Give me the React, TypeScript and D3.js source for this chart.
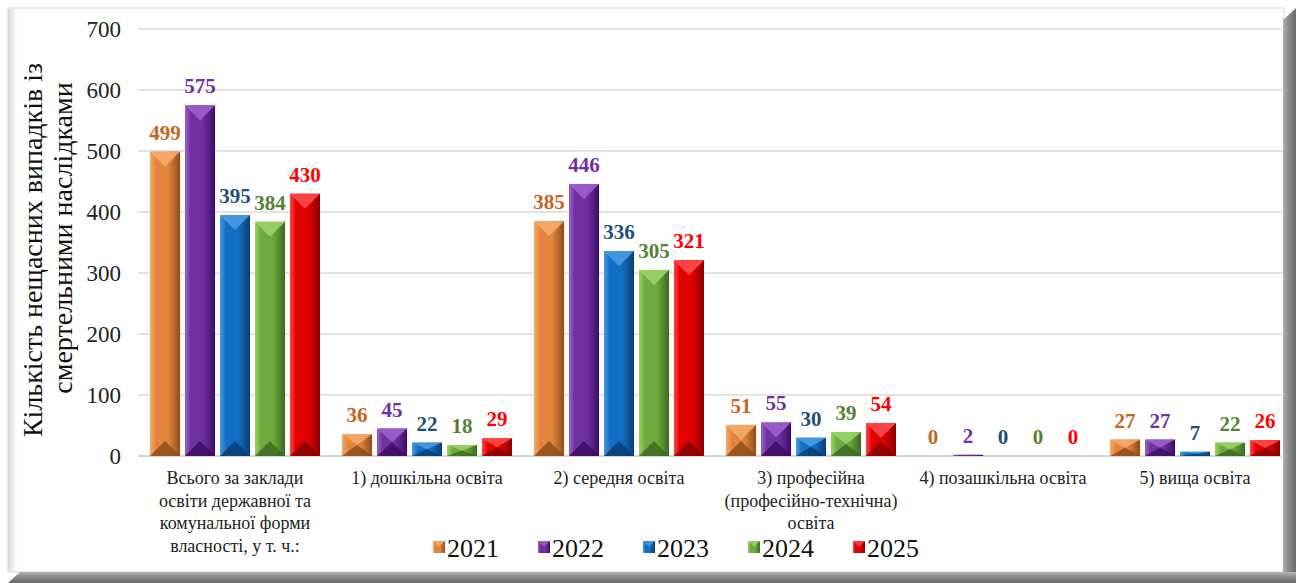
import React from 'react'
import * as d3 from 'd3'

const categories = [
  ['Всього за заклади', 'освіти державної та', 'комунальної форми', 'власності, у т. ч.:'],
  ['1) дошкільна освіта'],
  ['2) середня освіта'],
  ['3) професійна', '(професійно-технічна)', 'освіта'],
  ['4) позашкільна освіта'],
  ['5) вища освіта'],
]
const years = ['2021', '2022', '2023', '2024', '2025']
const v2021 = [499, 36, 385, 51, 0, 27]
const v2022 = [575, 45, 446, 55, 2, 27]
const v2023 = [395, 22, 336, 30, 0, 7]
const v2024 = [384, 18, 305, 39, 0, 22]
const v2025 = [430, 29, 321, 54, 0, 26]
const yTicks = [0, 100, 200, 300, 400, 500, 600, 700]

const series = [v2021, v2022, v2023, v2024, v2025]

const palette = [
  { base: '#E2843C', light: '#F6AA6A', dark: '#8E4C1C', label: '#C4661F' },
  { base: '#7030A0', light: '#9C60CC', dark: '#3C0E62', label: '#7030A0' },
  { base: '#1170C4', light: '#4A9BE0', dark: '#0A3E72', label: '#1F4E79' },
  { base: '#6CAC3C', light: '#9CD266', dark: '#3E6A22', label: '#548235' },
  { base: '#E00000', light: '#FF4A4A', dark: '#8A0000', label: '#FF0000' },
]

const W = 1298
const H = 583
const serif = "'Liberation Serif', 'DejaVu Serif', serif"

const App: React.FC = () => {
  const x = d3.scaleBand<number>()
    .domain(categories.map((_, i) => i))
    .range([139, 1291])
    .padding(0)

  const xi = d3.scaleBand<number>()
    .domain(years.map((_, i) => i))
    .range([11, 181])
    .paddingInner(0.14)

  const y = d3.scaleLinear().domain([0, 700]).range([456, 29])

  const bw = xi.bandwidth()

  return (
    <svg width={W} height={H} style={{ position: 'absolute', left: 0, top: 0, fontFamily: serif }}>
      <defs>
        {palette.map((p, i) => (
          <linearGradient key={i} id={`g${i}`} x1="0" x2="1" y1="0" y2="0">
            <stop offset="0" stopColor={p.light} />
            <stop offset="0.2" stopColor={p.base} />
            <stop offset="0.6" stopColor={p.base} />
            <stop offset="1" stopColor={p.dark} />
          </linearGradient>
        ))}
        <linearGradient id="rs" x1="0" x2="1" y1="0" y2="0">
          <stop offset="0" stopColor="#b0b0b0" />
          <stop offset="0.4" stopColor="#8c8c8c" />
          <stop offset="1" stopColor="#6a6a6a" />
        </linearGradient>
        <linearGradient id="bs" x1="0" x2="0" y1="0" y2="1">
          <stop offset="0" stopColor="#b8b8b8" />
          <stop offset="0.4" stopColor="#8c8c8c" />
          <stop offset="1" stopColor="#6a6a6a" />
        </linearGradient>
        <linearGradient id="ls" x1="0" x2="1" y1="0" y2="0">
          <stop offset="0" stopColor="#d8d8d8" />
          <stop offset="1" stopColor="#ffffff" />
        </linearGradient>
      </defs>

      <rect x={0} y={0} width={W} height={H} fill="#fff" />
      {/* frame */}
      <rect x={8} y={8} width={1276} height={564} fill="#fff" stroke="#d6d6d6" />
      <rect x={8} y={9} width={9} height={562} fill="url(#ls)" />
      <polygon points="1283,20 1296,8 1296,583 1283,583" fill="url(#rs)" />
      <polygon points="8,583 20,572 1296,572 1296,583" fill="url(#bs)" />

      {/* grid */}
      {yTicks.map(t => (
        <g key={t}>
          <line x1={138} x2={1282} y1={y(t)} y2={y(t)} stroke={t === 0 ? '#c8c8c8' : '#d9d9d9'} strokeWidth={1.5} />
          <text x={121} y={y(t)} dy="0.35em" textAnchor="end" fontSize={23} fill="#222" style={{ fontFamily: serif }}>{t}</text>
        </g>
      ))}

      {/* axis title */}
      <text transform="translate(42,250) rotate(-90)" textAnchor="middle" fontSize={28} fill="#111" style={{ fontFamily: serif }}>
        Кількість нещасних випадків із
      </text>
      <text transform="translate(72,238) rotate(-90)" textAnchor="middle" fontSize={28} fill="#111" style={{ fontFamily: serif }}>
        смертельними наслідками
      </text>

      {/* bars */}
      {categories.map((_, ci) => (
        <g key={ci} transform={`translate(${x(ci)},0)`}>
          {series.map((vals, si) => {
            const v = vals[ci]
            const bx = xi(si) as number
            const top = y(v)
            const bot = y(0)
            const h = bot - top
            const p = palette[si]
            const d = Math.min(bw / 2, h / 2)
            return (
              <g key={si}>
                {h > 0 && (
                  <>
                    <rect x={bx} y={top} width={bw} height={h} fill={`url(#g${si})`} />
                    <polygon points={`${bx},${top} ${bx + bw},${top} ${bx + bw / 2},${top + d}`} fill={p.light} opacity={0.9} />
                    <polygon points={`${bx},${bot} ${bx + bw},${bot} ${bx + bw / 2},${bot - d}`} fill={p.dark} opacity={0.85} />
                  </>
                )}
                <text x={bx + bw / 2} y={top - 12} textAnchor="middle" fontSize={21} fontWeight="bold" fill={p.label} style={{ fontFamily: serif }}>
                  {v}
                </text>
              </g>
            )
          })}
          {categories[ci].map((line, li) => (
            <text key={li} x={x.bandwidth() / 2} y={484 + li * 22.5} textAnchor="middle" fontSize={18} fill="#222" style={{ fontFamily: serif }}>
              {line}
            </text>
          ))}
        </g>
      ))}

      {/* legend */}
      {years.map((yr, i) => {
        const lx = 433 + i * 105
        const p = palette[i]
        return (
          <g key={yr}>
            <rect x={lx} y={541} width={12} height={12} fill={`url(#g${i})`} />
            <polygon points={`${lx},${541} ${lx + 12},${541} ${lx + 6},${547}`} fill={p.light} opacity={0.8} />
            <text x={lx + 14} y={557} fontSize={26} fill="#111" style={{ fontFamily: serif }}>{yr}</text>
          </g>
        )
      })}
    </svg>
  )
}

export default App
